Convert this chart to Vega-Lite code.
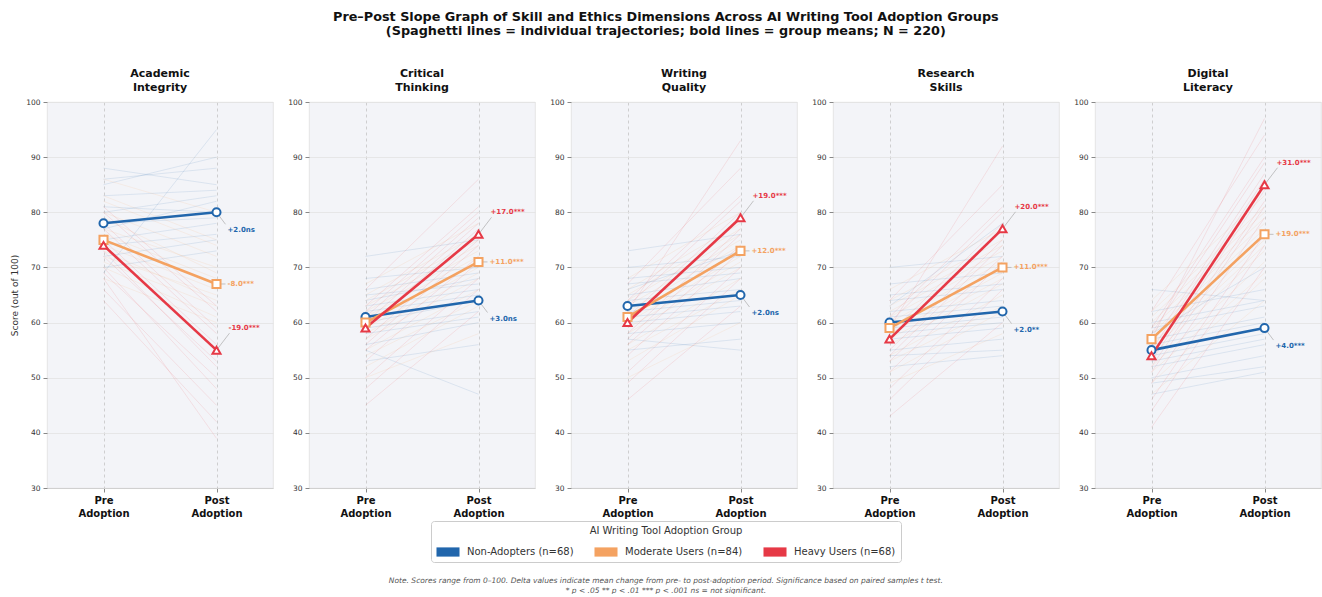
{
 "$schema": "https://vega.github.io/schema/vega-lite/v6.json",
 "padding": {"left": 10, "top": 10, "right": 0, "bottom": 0},
 "background": "white",
 "title": {"text": ["Note. Scores range from 0–100. Delta values indicate mean change from pre- to post-adoption period. Significance based on paired samples t test.", "* p < .05  ** p < .01  *** p < .001  ns = not significant."], "orient": "bottom", "anchor": "middle", "fontSize": 7.5, "fontStyle": "italic", "fontWeight": "normal", "color": "#555555", "lineHeight": 10, "offset": 14},
 "data": {"values": [
  {"d":"AI","g":"Non-Adopters (n=68)","lab":"+2.0ns","Pre":78,"Post":80},
  {"d":"AI","g":"Moderate Users (n=84)","lab":"-8.0***","Pre":75,"Post":67},
  {"d":"AI","g":"Heavy Users (n=68)","lab":"-19.0***","Pre":74,"Post":55},
  {"d":"CT","g":"Non-Adopters (n=68)","lab":"+3.0ns","Pre":61,"Post":64},
  {"d":"CT","g":"Moderate Users (n=84)","lab":"+11.0***","Pre":60,"Post":71},
  {"d":"CT","g":"Heavy Users (n=68)","lab":"+17.0***","Pre":59,"Post":76},
  {"d":"WQ","g":"Non-Adopters (n=68)","lab":"+2.0ns","Pre":63,"Post":65},
  {"d":"WQ","g":"Moderate Users (n=84)","lab":"+12.0***","Pre":61,"Post":73},
  {"d":"WQ","g":"Heavy Users (n=68)","lab":"+19.0***","Pre":60,"Post":79},
  {"d":"RS","g":"Non-Adopters (n=68)","lab":"+2.0**","Pre":60,"Post":62},
  {"d":"RS","g":"Moderate Users (n=84)","lab":"+11.0***","Pre":59,"Post":70},
  {"d":"RS","g":"Heavy Users (n=68)","lab":"+20.0***","Pre":57,"Post":77},
  {"d":"DL","g":"Non-Adopters (n=68)","lab":"+4.0***","Pre":55,"Post":59},
  {"d":"DL","g":"Moderate Users (n=84)","lab":"+19.0***","Pre":57,"Post":76},
  {"d":"DL","g":"Heavy Users (n=68)","lab":"+31.0***","Pre":54,"Post":85},

  {"d":"AI","g":"Non-Adopters (n=68)","i":1,"Pre":72,"Post":75},
  {"d":"AI","g":"Non-Adopters (n=68)","i":2,"Pre":75,"Post":78},
  {"d":"AI","g":"Non-Adopters (n=68)","i":3,"Pre":78,"Post":79},
  {"d":"AI","g":"Non-Adopters (n=68)","i":4,"Pre":80,"Post":83},
  {"d":"AI","g":"Non-Adopters (n=68)","i":5,"Pre":83,"Post":84},
  {"d":"AI","g":"Non-Adopters (n=68)","i":6,"Pre":86,"Post":88},
  {"d":"AI","g":"Non-Adopters (n=68)","i":7,"Pre":70,"Post":73},
  {"d":"AI","g":"Non-Adopters (n=68)","i":8,"Pre":77,"Post":82},
  {"d":"AI","g":"Non-Adopters (n=68)","i":9,"Pre":81,"Post":80},
  {"d":"AI","g":"Non-Adopters (n=68)","i":10,"Pre":85,"Post":90},
  {"d":"AI","g":"Non-Adopters (n=68)","i":11,"Pre":74,"Post":76},
  {"d":"AI","g":"Non-Adopters (n=68)","i":12,"Pre":88,"Post":85},
  {"d":"AI","g":"Non-Adopters (n=68)","i":13,"Pre":69,"Post":95},
  {"d":"AI","g":"Moderate Users (n=84)","i":1,"Pre":68,"Post":60},
  {"d":"AI","g":"Moderate Users (n=84)","i":2,"Pre":71,"Post":63},
  {"d":"AI","g":"Moderate Users (n=84)","i":3,"Pre":74,"Post":66},
  {"d":"AI","g":"Moderate Users (n=84)","i":4,"Pre":77,"Post":70},
  {"d":"AI","g":"Moderate Users (n=84)","i":5,"Pre":80,"Post":72},
  {"d":"AI","g":"Moderate Users (n=84)","i":6,"Pre":83,"Post":75},
  {"d":"AI","g":"Moderate Users (n=84)","i":7,"Pre":70,"Post":61},
  {"d":"AI","g":"Moderate Users (n=84)","i":8,"Pre":76,"Post":68},
  {"d":"AI","g":"Moderate Users (n=84)","i":9,"Pre":79,"Post":69},
  {"d":"AI","g":"Moderate Users (n=84)","i":10,"Pre":72,"Post":65},
  {"d":"AI","g":"Moderate Users (n=84)","i":11,"Pre":82,"Post":74},
  {"d":"AI","g":"Moderate Users (n=84)","i":12,"Pre":73,"Post":64},
  {"d":"AI","g":"Moderate Users (n=84)","i":13,"Pre":86,"Post":80},
  {"d":"AI","g":"Heavy Users (n=68)","i":1,"Pre":66,"Post":45},
  {"d":"AI","g":"Heavy Users (n=68)","i":2,"Pre":69,"Post":50},
  {"d":"AI","g":"Heavy Users (n=68)","i":3,"Pre":72,"Post":53},
  {"d":"AI","g":"Heavy Users (n=68)","i":4,"Pre":75,"Post":56},
  {"d":"AI","g":"Heavy Users (n=68)","i":5,"Pre":78,"Post":59},
  {"d":"AI","g":"Heavy Users (n=68)","i":6,"Pre":81,"Post":63},
  {"d":"AI","g":"Heavy Users (n=68)","i":7,"Pre":70,"Post":48},
  {"d":"AI","g":"Heavy Users (n=68)","i":8,"Pre":74,"Post":55},
  {"d":"AI","g":"Heavy Users (n=68)","i":9,"Pre":77,"Post":58},
  {"d":"AI","g":"Heavy Users (n=68)","i":10,"Pre":80,"Post":62},
  {"d":"AI","g":"Heavy Users (n=68)","i":11,"Pre":68,"Post":39},
  {"d":"AI","g":"Heavy Users (n=68)","i":12,"Pre":73,"Post":52},
  {"d":"AI","g":"Heavy Users (n=68)","i":13,"Pre":64,"Post":42},

  {"d":"CT","g":"Non-Adopters (n=68)","i":1,"Pre":53,"Post":56},
  {"d":"CT","g":"Non-Adopters (n=68)","i":2,"Pre":56,"Post":60},
  {"d":"CT","g":"Non-Adopters (n=68)","i":3,"Pre":59,"Post":62},
  {"d":"CT","g":"Non-Adopters (n=68)","i":4,"Pre":62,"Post":65},
  {"d":"CT","g":"Non-Adopters (n=68)","i":5,"Pre":65,"Post":67},
  {"d":"CT","g":"Non-Adopters (n=68)","i":6,"Pre":68,"Post":70},
  {"d":"CT","g":"Non-Adopters (n=68)","i":7,"Pre":55,"Post":47},
  {"d":"CT","g":"Non-Adopters (n=68)","i":8,"Pre":60,"Post":64},
  {"d":"CT","g":"Non-Adopters (n=68)","i":9,"Pre":63,"Post":66},
  {"d":"CT","g":"Non-Adopters (n=68)","i":10,"Pre":66,"Post":69},
  {"d":"CT","g":"Non-Adopters (n=68)","i":11,"Pre":58,"Post":61},
  {"d":"CT","g":"Non-Adopters (n=68)","i":12,"Pre":64,"Post":68},
  {"d":"CT","g":"Non-Adopters (n=68)","i":13,"Pre":72,"Post":75},
  {"d":"CT","g":"Moderate Users (n=84)","i":1,"Pre":52,"Post":63},
  {"d":"CT","g":"Moderate Users (n=84)","i":2,"Pre":55,"Post":66},
  {"d":"CT","g":"Moderate Users (n=84)","i":3,"Pre":58,"Post":69},
  {"d":"CT","g":"Moderate Users (n=84)","i":4,"Pre":61,"Post":72},
  {"d":"CT","g":"Moderate Users (n=84)","i":5,"Pre":64,"Post":75},
  {"d":"CT","g":"Moderate Users (n=84)","i":6,"Pre":67,"Post":78},
  {"d":"CT","g":"Moderate Users (n=84)","i":7,"Pre":54,"Post":64},
  {"d":"CT","g":"Moderate Users (n=84)","i":8,"Pre":59,"Post":70},
  {"d":"CT","g":"Moderate Users (n=84)","i":9,"Pre":62,"Post":73},
  {"d":"CT","g":"Moderate Users (n=84)","i":10,"Pre":65,"Post":76},
  {"d":"CT","g":"Moderate Users (n=84)","i":11,"Pre":57,"Post":68},
  {"d":"CT","g":"Moderate Users (n=84)","i":12,"Pre":63,"Post":74},
  {"d":"CT","g":"Moderate Users (n=84)","i":13,"Pre":50,"Post":58},
  {"d":"CT","g":"Heavy Users (n=68)","i":1,"Pre":50,"Post":68},
  {"d":"CT","g":"Heavy Users (n=68)","i":2,"Pre":53,"Post":71},
  {"d":"CT","g":"Heavy Users (n=68)","i":3,"Pre":56,"Post":74},
  {"d":"CT","g":"Heavy Users (n=68)","i":4,"Pre":59,"Post":77},
  {"d":"CT","g":"Heavy Users (n=68)","i":5,"Pre":62,"Post":80},
  {"d":"CT","g":"Heavy Users (n=68)","i":6,"Pre":66,"Post":86},
  {"d":"CT","g":"Heavy Users (n=68)","i":7,"Pre":48,"Post":66},
  {"d":"CT","g":"Heavy Users (n=68)","i":8,"Pre":57,"Post":75},
  {"d":"CT","g":"Heavy Users (n=68)","i":9,"Pre":60,"Post":78},
  {"d":"CT","g":"Heavy Users (n=68)","i":10,"Pre":63,"Post":81},
  {"d":"CT","g":"Heavy Users (n=68)","i":11,"Pre":55,"Post":72},
  {"d":"CT","g":"Heavy Users (n=68)","i":12,"Pre":61,"Post":79},
  {"d":"CT","g":"Heavy Users (n=68)","i":13,"Pre":45,"Post":62},

  {"d":"WQ","g":"Non-Adopters (n=68)","i":1,"Pre":55,"Post":57},
  {"d":"WQ","g":"Non-Adopters (n=68)","i":2,"Pre":58,"Post":60},
  {"d":"WQ","g":"Non-Adopters (n=68)","i":3,"Pre":61,"Post":63},
  {"d":"WQ","g":"Non-Adopters (n=68)","i":4,"Pre":64,"Post":66},
  {"d":"WQ","g":"Non-Adopters (n=68)","i":5,"Pre":67,"Post":69},
  {"d":"WQ","g":"Non-Adopters (n=68)","i":6,"Pre":70,"Post":72},
  {"d":"WQ","g":"Non-Adopters (n=68)","i":7,"Pre":57,"Post":55},
  {"d":"WQ","g":"Non-Adopters (n=68)","i":8,"Pre":62,"Post":64},
  {"d":"WQ","g":"Non-Adopters (n=68)","i":9,"Pre":65,"Post":68},
  {"d":"WQ","g":"Non-Adopters (n=68)","i":10,"Pre":68,"Post":70},
  {"d":"WQ","g":"Non-Adopters (n=68)","i":11,"Pre":60,"Post":62},
  {"d":"WQ","g":"Non-Adopters (n=68)","i":12,"Pre":66,"Post":73},
  {"d":"WQ","g":"Non-Adopters (n=68)","i":13,"Pre":73,"Post":76},
  {"d":"WQ","g":"Moderate Users (n=84)","i":1,"Pre":53,"Post":65},
  {"d":"WQ","g":"Moderate Users (n=84)","i":2,"Pre":56,"Post":68},
  {"d":"WQ","g":"Moderate Users (n=84)","i":3,"Pre":59,"Post":71},
  {"d":"WQ","g":"Moderate Users (n=84)","i":4,"Pre":62,"Post":74},
  {"d":"WQ","g":"Moderate Users (n=84)","i":5,"Pre":65,"Post":77},
  {"d":"WQ","g":"Moderate Users (n=84)","i":6,"Pre":68,"Post":80},
  {"d":"WQ","g":"Moderate Users (n=84)","i":7,"Pre":55,"Post":66},
  {"d":"WQ","g":"Moderate Users (n=84)","i":8,"Pre":60,"Post":72},
  {"d":"WQ","g":"Moderate Users (n=84)","i":9,"Pre":63,"Post":75},
  {"d":"WQ","g":"Moderate Users (n=84)","i":10,"Pre":66,"Post":78},
  {"d":"WQ","g":"Moderate Users (n=84)","i":11,"Pre":58,"Post":70},
  {"d":"WQ","g":"Moderate Users (n=84)","i":12,"Pre":64,"Post":76},
  {"d":"WQ","g":"Moderate Users (n=84)","i":13,"Pre":50,"Post":60},
  {"d":"WQ","g":"Heavy Users (n=68)","i":1,"Pre":51,"Post":70},
  {"d":"WQ","g":"Heavy Users (n=68)","i":2,"Pre":54,"Post":73},
  {"d":"WQ","g":"Heavy Users (n=68)","i":3,"Pre":57,"Post":76},
  {"d":"WQ","g":"Heavy Users (n=68)","i":4,"Pre":60,"Post":79},
  {"d":"WQ","g":"Heavy Users (n=68)","i":5,"Pre":63,"Post":82},
  {"d":"WQ","g":"Heavy Users (n=68)","i":6,"Pre":67,"Post":88},
  {"d":"WQ","g":"Heavy Users (n=68)","i":7,"Pre":49,"Post":68},
  {"d":"WQ","g":"Heavy Users (n=68)","i":8,"Pre":58,"Post":77},
  {"d":"WQ","g":"Heavy Users (n=68)","i":9,"Pre":61,"Post":80},
  {"d":"WQ","g":"Heavy Users (n=68)","i":10,"Pre":64,"Post":83},
  {"d":"WQ","g":"Heavy Users (n=68)","i":11,"Pre":56,"Post":74},
  {"d":"WQ","g":"Heavy Users (n=68)","i":12,"Pre":62,"Post":93},
  {"d":"WQ","g":"Heavy Users (n=68)","i":13,"Pre":46,"Post":63},

  {"d":"RS","g":"Non-Adopters (n=68)","i":1,"Pre":52,"Post":54},
  {"d":"RS","g":"Non-Adopters (n=68)","i":2,"Pre":55,"Post":57},
  {"d":"RS","g":"Non-Adopters (n=68)","i":3,"Pre":58,"Post":60},
  {"d":"RS","g":"Non-Adopters (n=68)","i":4,"Pre":61,"Post":63},
  {"d":"RS","g":"Non-Adopters (n=68)","i":5,"Pre":64,"Post":66},
  {"d":"RS","g":"Non-Adopters (n=68)","i":6,"Pre":67,"Post":69},
  {"d":"RS","g":"Non-Adopters (n=68)","i":7,"Pre":54,"Post":55},
  {"d":"RS","g":"Non-Adopters (n=68)","i":8,"Pre":59,"Post":61},
  {"d":"RS","g":"Non-Adopters (n=68)","i":9,"Pre":62,"Post":64},
  {"d":"RS","g":"Non-Adopters (n=68)","i":10,"Pre":65,"Post":67},
  {"d":"RS","g":"Non-Adopters (n=68)","i":11,"Pre":57,"Post":59},
  {"d":"RS","g":"Non-Adopters (n=68)","i":12,"Pre":63,"Post":78},
  {"d":"RS","g":"Non-Adopters (n=68)","i":13,"Pre":70,"Post":72},
  {"d":"RS","g":"Moderate Users (n=84)","i":1,"Pre":51,"Post":62},
  {"d":"RS","g":"Moderate Users (n=84)","i":2,"Pre":54,"Post":65},
  {"d":"RS","g":"Moderate Users (n=84)","i":3,"Pre":57,"Post":68},
  {"d":"RS","g":"Moderate Users (n=84)","i":4,"Pre":60,"Post":71},
  {"d":"RS","g":"Moderate Users (n=84)","i":5,"Pre":63,"Post":74},
  {"d":"RS","g":"Moderate Users (n=84)","i":6,"Pre":66,"Post":77},
  {"d":"RS","g":"Moderate Users (n=84)","i":7,"Pre":53,"Post":63},
  {"d":"RS","g":"Moderate Users (n=84)","i":8,"Pre":58,"Post":69},
  {"d":"RS","g":"Moderate Users (n=84)","i":9,"Pre":61,"Post":72},
  {"d":"RS","g":"Moderate Users (n=84)","i":10,"Pre":64,"Post":75},
  {"d":"RS","g":"Moderate Users (n=84)","i":11,"Pre":56,"Post":67},
  {"d":"RS","g":"Moderate Users (n=84)","i":12,"Pre":62,"Post":73},
  {"d":"RS","g":"Moderate Users (n=84)","i":13,"Pre":49,"Post":58},
  {"d":"RS","g":"Heavy Users (n=68)","i":1,"Pre":48,"Post":68},
  {"d":"RS","g":"Heavy Users (n=68)","i":2,"Pre":51,"Post":71},
  {"d":"RS","g":"Heavy Users (n=68)","i":3,"Pre":54,"Post":74},
  {"d":"RS","g":"Heavy Users (n=68)","i":4,"Pre":57,"Post":77},
  {"d":"RS","g":"Heavy Users (n=68)","i":5,"Pre":60,"Post":80},
  {"d":"RS","g":"Heavy Users (n=68)","i":6,"Pre":64,"Post":85},
  {"d":"RS","g":"Heavy Users (n=68)","i":7,"Pre":46,"Post":66},
  {"d":"RS","g":"Heavy Users (n=68)","i":8,"Pre":55,"Post":75},
  {"d":"RS","g":"Heavy Users (n=68)","i":9,"Pre":58,"Post":78},
  {"d":"RS","g":"Heavy Users (n=68)","i":10,"Pre":61,"Post":81},
  {"d":"RS","g":"Heavy Users (n=68)","i":11,"Pre":53,"Post":72},
  {"d":"RS","g":"Heavy Users (n=68)","i":12,"Pre":59,"Post":92},
  {"d":"RS","g":"Heavy Users (n=68)","i":13,"Pre":43,"Post":60},

  {"d":"DL","g":"Non-Adopters (n=68)","i":1,"Pre":47,"Post":51},
  {"d":"DL","g":"Non-Adopters (n=68)","i":2,"Pre":50,"Post":54},
  {"d":"DL","g":"Non-Adopters (n=68)","i":3,"Pre":53,"Post":57},
  {"d":"DL","g":"Non-Adopters (n=68)","i":4,"Pre":56,"Post":60},
  {"d":"DL","g":"Non-Adopters (n=68)","i":5,"Pre":59,"Post":63},
  {"d":"DL","g":"Non-Adopters (n=68)","i":6,"Pre":62,"Post":66},
  {"d":"DL","g":"Non-Adopters (n=68)","i":7,"Pre":49,"Post":52},
  {"d":"DL","g":"Non-Adopters (n=68)","i":8,"Pre":54,"Post":58},
  {"d":"DL","g":"Non-Adopters (n=68)","i":9,"Pre":57,"Post":61},
  {"d":"DL","g":"Non-Adopters (n=68)","i":10,"Pre":60,"Post":64},
  {"d":"DL","g":"Non-Adopters (n=68)","i":11,"Pre":52,"Post":56},
  {"d":"DL","g":"Non-Adopters (n=68)","i":12,"Pre":58,"Post":70},
  {"d":"DL","g":"Non-Adopters (n=68)","i":13,"Pre":66,"Post":64},
  {"d":"DL","g":"Moderate Users (n=84)","i":1,"Pre":49,"Post":68},
  {"d":"DL","g":"Moderate Users (n=84)","i":2,"Pre":52,"Post":71},
  {"d":"DL","g":"Moderate Users (n=84)","i":3,"Pre":55,"Post":74},
  {"d":"DL","g":"Moderate Users (n=84)","i":4,"Pre":58,"Post":77},
  {"d":"DL","g":"Moderate Users (n=84)","i":5,"Pre":61,"Post":80},
  {"d":"DL","g":"Moderate Users (n=84)","i":6,"Pre":64,"Post":83},
  {"d":"DL","g":"Moderate Users (n=84)","i":7,"Pre":51,"Post":69},
  {"d":"DL","g":"Moderate Users (n=84)","i":8,"Pre":56,"Post":75},
  {"d":"DL","g":"Moderate Users (n=84)","i":9,"Pre":59,"Post":78},
  {"d":"DL","g":"Moderate Users (n=84)","i":10,"Pre":62,"Post":81},
  {"d":"DL","g":"Moderate Users (n=84)","i":11,"Pre":54,"Post":73},
  {"d":"DL","g":"Moderate Users (n=84)","i":12,"Pre":60,"Post":79},
  {"d":"DL","g":"Moderate Users (n=84)","i":13,"Pre":47,"Post":64},
  {"d":"DL","g":"Heavy Users (n=68)","i":1,"Pre":46,"Post":76},
  {"d":"DL","g":"Heavy Users (n=68)","i":2,"Pre":49,"Post":79},
  {"d":"DL","g":"Heavy Users (n=68)","i":3,"Pre":52,"Post":82},
  {"d":"DL","g":"Heavy Users (n=68)","i":4,"Pre":55,"Post":86},
  {"d":"DL","g":"Heavy Users (n=68)","i":5,"Pre":58,"Post":89},
  {"d":"DL","g":"Heavy Users (n=68)","i":6,"Pre":62,"Post":94},
  {"d":"DL","g":"Heavy Users (n=68)","i":7,"Pre":44,"Post":74},
  {"d":"DL","g":"Heavy Users (n=68)","i":8,"Pre":53,"Post":84},
  {"d":"DL","g":"Heavy Users (n=68)","i":9,"Pre":56,"Post":87},
  {"d":"DL","g":"Heavy Users (n=68)","i":10,"Pre":59,"Post":90},
  {"d":"DL","g":"Heavy Users (n=68)","i":11,"Pre":51,"Post":81},
  {"d":"DL","g":"Heavy Users (n=68)","i":12,"Pre":57,"Post":97},
  {"d":"DL","g":"Heavy Users (n=68)","i":13,"Pre":41,"Post":70}
 ]},
 "vconcat": [{
  "title": {"text": ["Pre–Post Slope Graph of Skill and Ethics Dimensions Across AI Writing Tool Adoption Groups", "(Spaghetti lines = individual trajectories; bold lines = group means; N = 220)"], "anchor": "middle", "fontSize": 12.8, "fontWeight": "bold", "lineHeight": 14, "color": "#111111", "offset": 30},
  "spacing": 13,
  "hconcat": [
   {
    "width": 226, "height": 386,
    "title": {"text": ["Academic", "Integrity"], "fontSize": 11, "fontWeight": "bold", "lineHeight": 14, "offset": 5, "color": "#111111"},
    "transform": [{"filter": "datum.d == 'AI'"}, {"fold": ["Pre", "Post"], "as": ["phase", "score"]}],
    "encoding": {
     "x": {"field": "phase", "type": "nominal", "sort": ["Pre", "Post"], "scale": {"type": "point", "domain": ["Pre", "Post"], "padding": 0.5}, "axis": {"title": null, "labelAngle": 0, "labelExpr": "datum.value == 'Pre' ? ['Pre', 'Adoption'] : ['Post', 'Adoption']", "grid": true, "gridDash": [3, 3], "gridColor": "#c4c4c4"}},
     "y": {"field": "score", "type": "quantitative", "scale": {"domain": [30, 100], "nice": false, "zero": false}, "axis": {"title": "Score (out of 100)", "values": [30, 40, 50, 60, 70, 80, 90, 100]}}
    },
    "layer": [
     {"transform": [{"filter": "datum.lab && datum.phase == 'Pre'"}], "mark": {"type": "point", "filled": true, "opacity": 0, "size": 1}, "encoding": {"color": {"field": "g", "type": "nominal", "title": "AI Writing Tool Adoption Group", "scale": {"domain": ["Non-Adopters (n=68)", "Moderate Users (n=84)", "Heavy Users (n=68)"], "range": ["#2166ac", "#f4a261", "#e63946"]}, "legend": {"orient": "bottom", "direction": "horizontal", "offset": 2, "symbolType": "M-1,-0.4H1V0.4H-1Z", "symbolSize": 530, "symbolStrokeWidth": 0, "symbolOpacity": 1}}}},
     {"transform": [{"filter": "!datum.lab"}], "mark": {"type": "line", "strokeWidth": 0.6, "opacity": 0.2}, "encoding": {"detail": {"field": "i", "type": "nominal"}, "stroke": {"field": "g", "type": "nominal", "scale": {"domain": ["Non-Adopters (n=68)", "Moderate Users (n=84)", "Heavy Users (n=68)"], "range": ["#2166ac", "#f4a261", "#e63946"]}, "legend": null}}},
     {"transform": [{"filter": "datum.lab"}], "mark": {"type": "line", "strokeWidth": 2.6}, "encoding": {"stroke": {"field": "g", "type": "nominal", "legend": null}}},
     {"transform": [{"filter": "datum.lab && datum.phase == 'Post'"}], "mark": {"type": "rule", "strokeWidth": 0.7, "color": "#aaaaaa", "x2Offset": {"expr": "datum.g == 'Heavy Users (n=68)' ? 13 : 9"}, "y2Offset": {"expr": "datum.g == 'Heavy Users (n=68)' ? -17 : datum.g == 'Moderate Users (n=84)' ? 0 : 12"}}, "encoding": {"x2": {"field": "phase"}, "y2": {"field": "score"}}},
     {"transform": [{"filter": "datum.lab && datum.g == 'Non-Adopters (n=68)'"}], "mark": {"type": "point", "shape": "circle", "filled": false, "fill": "white", "stroke": "#2166ac", "size": 65, "strokeWidth": 2, "opacity": 1}},
     {"transform": [{"filter": "datum.lab && datum.g == 'Moderate Users (n=84)'"}], "mark": {"type": "point", "shape": "square", "filled": false, "fill": "white", "stroke": "#f4a261", "size": 65, "strokeWidth": 2, "opacity": 1}},
     {"transform": [{"filter": "datum.lab && datum.g == 'Heavy Users (n=68)'"}], "mark": {"type": "point", "shape": "triangle-up", "filled": false, "fill": "white", "stroke": "#e63946", "size": 65, "strokeWidth": 2, "opacity": 1}},
     {"transform": [{"filter": "datum.lab && datum.phase == 'Post'"}], "mark": {"type": "text", "align": "left", "baseline": "middle", "fontSize": 7, "fontWeight": "bold", "dx": {"expr": "datum.g == 'Heavy Users (n=68)' ? 12 : 11"}, "dy": {"expr": "datum.g == 'Heavy Users (n=68)' ? -22 : datum.g == 'Moderate Users (n=84)' ? 0 : 18"}}, "encoding": {"text": {"field": "lab"}, "fill": {"field": "g", "type": "nominal", "scale": {"domain": ["Non-Adopters (n=68)", "Moderate Users (n=84)", "Heavy Users (n=68)"], "range": ["#2166ac", "#f4a261", "#e63946"]}, "legend": null}}}
    ]
   },
   {
    "width": 226, "height": 386,
    "title": {"text": ["Critical", "Thinking"], "fontSize": 11, "fontWeight": "bold", "lineHeight": 14, "offset": 5, "color": "#111111"},
    "transform": [{"filter": "datum.d == 'CT'"}, {"fold": ["Pre", "Post"], "as": ["phase", "score"]}],
    "encoding": {
     "x": {"field": "phase", "type": "nominal", "sort": ["Pre", "Post"], "scale": {"type": "point", "domain": ["Pre", "Post"], "padding": 0.5}, "axis": {"title": null, "labelAngle": 0, "labelExpr": "datum.value == 'Pre' ? ['Pre', 'Adoption'] : ['Post', 'Adoption']", "grid": true, "gridDash": [3, 3], "gridColor": "#c4c4c4"}},
     "y": {"field": "score", "type": "quantitative", "scale": {"domain": [30, 100], "nice": false, "zero": false}, "axis": {"title": null, "values": [30, 40, 50, 60, 70, 80, 90, 100]}}
    },
    "layer": [
     {"transform": [{"filter": "datum.lab && datum.phase == 'Pre'"}], "mark": {"type": "point", "filled": true, "opacity": 0, "size": 1}, "encoding": {"color": {"field": "g", "type": "nominal", "title": "AI Writing Tool Adoption Group", "scale": {"domain": ["Non-Adopters (n=68)", "Moderate Users (n=84)", "Heavy Users (n=68)"], "range": ["#2166ac", "#f4a261", "#e63946"]}, "legend": {"orient": "bottom", "direction": "horizontal", "offset": 2, "symbolType": "M-1,-0.4H1V0.4H-1Z", "symbolSize": 530, "symbolStrokeWidth": 0, "symbolOpacity": 1}}}},
     {"transform": [{"filter": "!datum.lab"}], "mark": {"type": "line", "strokeWidth": 0.6, "opacity": 0.2}, "encoding": {"detail": {"field": "i", "type": "nominal"}, "stroke": {"field": "g", "type": "nominal", "scale": {"domain": ["Non-Adopters (n=68)", "Moderate Users (n=84)", "Heavy Users (n=68)"], "range": ["#2166ac", "#f4a261", "#e63946"]}, "legend": null}}},
     {"transform": [{"filter": "datum.lab"}], "mark": {"type": "line", "strokeWidth": 2.6}, "encoding": {"stroke": {"field": "g", "type": "nominal", "legend": null}}},
     {"transform": [{"filter": "datum.lab && datum.phase == 'Post'"}], "mark": {"type": "rule", "strokeWidth": 0.7, "color": "#aaaaaa", "x2Offset": {"expr": "datum.g == 'Heavy Users (n=68)' ? 13 : 9"}, "y2Offset": {"expr": "datum.g == 'Heavy Users (n=68)' ? -17 : datum.g == 'Moderate Users (n=84)' ? 0 : 12"}}, "encoding": {"x2": {"field": "phase"}, "y2": {"field": "score"}}},
     {"transform": [{"filter": "datum.lab && datum.g == 'Non-Adopters (n=68)'"}], "mark": {"type": "point", "shape": "circle", "filled": false, "fill": "white", "stroke": "#2166ac", "size": 65, "strokeWidth": 2, "opacity": 1}},
     {"transform": [{"filter": "datum.lab && datum.g == 'Moderate Users (n=84)'"}], "mark": {"type": "point", "shape": "square", "filled": false, "fill": "white", "stroke": "#f4a261", "size": 65, "strokeWidth": 2, "opacity": 1}},
     {"transform": [{"filter": "datum.lab && datum.g == 'Heavy Users (n=68)'"}], "mark": {"type": "point", "shape": "triangle-up", "filled": false, "fill": "white", "stroke": "#e63946", "size": 65, "strokeWidth": 2, "opacity": 1}},
     {"transform": [{"filter": "datum.lab && datum.phase == 'Post'"}], "mark": {"type": "text", "align": "left", "baseline": "middle", "fontSize": 7, "fontWeight": "bold", "dx": {"expr": "datum.g == 'Heavy Users (n=68)' ? 12 : 11"}, "dy": {"expr": "datum.g == 'Heavy Users (n=68)' ? -22 : datum.g == 'Moderate Users (n=84)' ? 0 : 18"}}, "encoding": {"text": {"field": "lab"}, "fill": {"field": "g", "type": "nominal", "scale": {"domain": ["Non-Adopters (n=68)", "Moderate Users (n=84)", "Heavy Users (n=68)"], "range": ["#2166ac", "#f4a261", "#e63946"]}, "legend": null}}}
    ]
   },
   {
    "width": 226, "height": 386,
    "title": {"text": ["Writing", "Quality"], "fontSize": 11, "fontWeight": "bold", "lineHeight": 14, "offset": 5, "color": "#111111"},
    "transform": [{"filter": "datum.d == 'WQ'"}, {"fold": ["Pre", "Post"], "as": ["phase", "score"]}],
    "encoding": {
     "x": {"field": "phase", "type": "nominal", "sort": ["Pre", "Post"], "scale": {"type": "point", "domain": ["Pre", "Post"], "padding": 0.5}, "axis": {"title": null, "labelAngle": 0, "labelExpr": "datum.value == 'Pre' ? ['Pre', 'Adoption'] : ['Post', 'Adoption']", "grid": true, "gridDash": [3, 3], "gridColor": "#c4c4c4"}},
     "y": {"field": "score", "type": "quantitative", "scale": {"domain": [30, 100], "nice": false, "zero": false}, "axis": {"title": null, "values": [30, 40, 50, 60, 70, 80, 90, 100]}}
    },
    "layer": [
     {"transform": [{"filter": "datum.lab && datum.phase == 'Pre'"}], "mark": {"type": "point", "filled": true, "opacity": 0, "size": 1}, "encoding": {"color": {"field": "g", "type": "nominal", "title": "AI Writing Tool Adoption Group", "scale": {"domain": ["Non-Adopters (n=68)", "Moderate Users (n=84)", "Heavy Users (n=68)"], "range": ["#2166ac", "#f4a261", "#e63946"]}, "legend": {"orient": "bottom", "direction": "horizontal", "offset": 2, "symbolType": "M-1,-0.4H1V0.4H-1Z", "symbolSize": 530, "symbolStrokeWidth": 0, "symbolOpacity": 1}}}},
     {"transform": [{"filter": "!datum.lab"}], "mark": {"type": "line", "strokeWidth": 0.6, "opacity": 0.2}, "encoding": {"detail": {"field": "i", "type": "nominal"}, "stroke": {"field": "g", "type": "nominal", "scale": {"domain": ["Non-Adopters (n=68)", "Moderate Users (n=84)", "Heavy Users (n=68)"], "range": ["#2166ac", "#f4a261", "#e63946"]}, "legend": null}}},
     {"transform": [{"filter": "datum.lab"}], "mark": {"type": "line", "strokeWidth": 2.6}, "encoding": {"stroke": {"field": "g", "type": "nominal", "legend": null}}},
     {"transform": [{"filter": "datum.lab && datum.phase == 'Post'"}], "mark": {"type": "rule", "strokeWidth": 0.7, "color": "#aaaaaa", "x2Offset": {"expr": "datum.g == 'Heavy Users (n=68)' ? 13 : 9"}, "y2Offset": {"expr": "datum.g == 'Heavy Users (n=68)' ? -17 : datum.g == 'Moderate Users (n=84)' ? 0 : 12"}}, "encoding": {"x2": {"field": "phase"}, "y2": {"field": "score"}}},
     {"transform": [{"filter": "datum.lab && datum.g == 'Non-Adopters (n=68)'"}], "mark": {"type": "point", "shape": "circle", "filled": false, "fill": "white", "stroke": "#2166ac", "size": 65, "strokeWidth": 2, "opacity": 1}},
     {"transform": [{"filter": "datum.lab && datum.g == 'Moderate Users (n=84)'"}], "mark": {"type": "point", "shape": "square", "filled": false, "fill": "white", "stroke": "#f4a261", "size": 65, "strokeWidth": 2, "opacity": 1}},
     {"transform": [{"filter": "datum.lab && datum.g == 'Heavy Users (n=68)'"}], "mark": {"type": "point", "shape": "triangle-up", "filled": false, "fill": "white", "stroke": "#e63946", "size": 65, "strokeWidth": 2, "opacity": 1}},
     {"transform": [{"filter": "datum.lab && datum.phase == 'Post'"}], "mark": {"type": "text", "align": "left", "baseline": "middle", "fontSize": 7, "fontWeight": "bold", "dx": {"expr": "datum.g == 'Heavy Users (n=68)' ? 12 : 11"}, "dy": {"expr": "datum.g == 'Heavy Users (n=68)' ? -22 : datum.g == 'Moderate Users (n=84)' ? 0 : 18"}}, "encoding": {"text": {"field": "lab"}, "fill": {"field": "g", "type": "nominal", "scale": {"domain": ["Non-Adopters (n=68)", "Moderate Users (n=84)", "Heavy Users (n=68)"], "range": ["#2166ac", "#f4a261", "#e63946"]}, "legend": null}}}
    ]
   },
   {
    "width": 226, "height": 386,
    "title": {"text": ["Research", "Skills"], "fontSize": 11, "fontWeight": "bold", "lineHeight": 14, "offset": 5, "color": "#111111"},
    "transform": [{"filter": "datum.d == 'RS'"}, {"fold": ["Pre", "Post"], "as": ["phase", "score"]}],
    "encoding": {
     "x": {"field": "phase", "type": "nominal", "sort": ["Pre", "Post"], "scale": {"type": "point", "domain": ["Pre", "Post"], "padding": 0.5}, "axis": {"title": null, "labelAngle": 0, "labelExpr": "datum.value == 'Pre' ? ['Pre', 'Adoption'] : ['Post', 'Adoption']", "grid": true, "gridDash": [3, 3], "gridColor": "#c4c4c4"}},
     "y": {"field": "score", "type": "quantitative", "scale": {"domain": [30, 100], "nice": false, "zero": false}, "axis": {"title": null, "values": [30, 40, 50, 60, 70, 80, 90, 100]}}
    },
    "layer": [
     {"transform": [{"filter": "datum.lab && datum.phase == 'Pre'"}], "mark": {"type": "point", "filled": true, "opacity": 0, "size": 1}, "encoding": {"color": {"field": "g", "type": "nominal", "title": "AI Writing Tool Adoption Group", "scale": {"domain": ["Non-Adopters (n=68)", "Moderate Users (n=84)", "Heavy Users (n=68)"], "range": ["#2166ac", "#f4a261", "#e63946"]}, "legend": {"orient": "bottom", "direction": "horizontal", "offset": 2, "symbolType": "M-1,-0.4H1V0.4H-1Z", "symbolSize": 530, "symbolStrokeWidth": 0, "symbolOpacity": 1}}}},
     {"transform": [{"filter": "!datum.lab"}], "mark": {"type": "line", "strokeWidth": 0.6, "opacity": 0.2}, "encoding": {"detail": {"field": "i", "type": "nominal"}, "stroke": {"field": "g", "type": "nominal", "scale": {"domain": ["Non-Adopters (n=68)", "Moderate Users (n=84)", "Heavy Users (n=68)"], "range": ["#2166ac", "#f4a261", "#e63946"]}, "legend": null}}},
     {"transform": [{"filter": "datum.lab"}], "mark": {"type": "line", "strokeWidth": 2.6}, "encoding": {"stroke": {"field": "g", "type": "nominal", "legend": null}}},
     {"transform": [{"filter": "datum.lab && datum.phase == 'Post'"}], "mark": {"type": "rule", "strokeWidth": 0.7, "color": "#aaaaaa", "x2Offset": {"expr": "datum.g == 'Heavy Users (n=68)' ? 13 : 9"}, "y2Offset": {"expr": "datum.g == 'Heavy Users (n=68)' ? -17 : datum.g == 'Moderate Users (n=84)' ? 0 : 12"}}, "encoding": {"x2": {"field": "phase"}, "y2": {"field": "score"}}},
     {"transform": [{"filter": "datum.lab && datum.g == 'Non-Adopters (n=68)'"}], "mark": {"type": "point", "shape": "circle", "filled": false, "fill": "white", "stroke": "#2166ac", "size": 65, "strokeWidth": 2, "opacity": 1}},
     {"transform": [{"filter": "datum.lab && datum.g == 'Moderate Users (n=84)'"}], "mark": {"type": "point", "shape": "square", "filled": false, "fill": "white", "stroke": "#f4a261", "size": 65, "strokeWidth": 2, "opacity": 1}},
     {"transform": [{"filter": "datum.lab && datum.g == 'Heavy Users (n=68)'"}], "mark": {"type": "point", "shape": "triangle-up", "filled": false, "fill": "white", "stroke": "#e63946", "size": 65, "strokeWidth": 2, "opacity": 1}},
     {"transform": [{"filter": "datum.lab && datum.phase == 'Post'"}], "mark": {"type": "text", "align": "left", "baseline": "middle", "fontSize": 7, "fontWeight": "bold", "dx": {"expr": "datum.g == 'Heavy Users (n=68)' ? 12 : 11"}, "dy": {"expr": "datum.g == 'Heavy Users (n=68)' ? -22 : datum.g == 'Moderate Users (n=84)' ? 0 : 18"}}, "encoding": {"text": {"field": "lab"}, "fill": {"field": "g", "type": "nominal", "scale": {"domain": ["Non-Adopters (n=68)", "Moderate Users (n=84)", "Heavy Users (n=68)"], "range": ["#2166ac", "#f4a261", "#e63946"]}, "legend": null}}}
    ]
   },
   {
    "width": 226, "height": 386,
    "title": {"text": ["Digital", "Literacy"], "fontSize": 11, "fontWeight": "bold", "lineHeight": 14, "offset": 5, "color": "#111111"},
    "transform": [{"filter": "datum.d == 'DL'"}, {"fold": ["Pre", "Post"], "as": ["phase", "score"]}],
    "encoding": {
     "x": {"field": "phase", "type": "nominal", "sort": ["Pre", "Post"], "scale": {"type": "point", "domain": ["Pre", "Post"], "padding": 0.5}, "axis": {"title": null, "labelAngle": 0, "labelExpr": "datum.value == 'Pre' ? ['Pre', 'Adoption'] : ['Post', 'Adoption']", "grid": true, "gridDash": [3, 3], "gridColor": "#c4c4c4"}},
     "y": {"field": "score", "type": "quantitative", "scale": {"domain": [30, 100], "nice": false, "zero": false}, "axis": {"title": null, "values": [30, 40, 50, 60, 70, 80, 90, 100]}}
    },
    "layer": [
     {"transform": [{"filter": "datum.lab && datum.phase == 'Pre'"}], "mark": {"type": "point", "filled": true, "opacity": 0, "size": 1}, "encoding": {"color": {"field": "g", "type": "nominal", "title": "AI Writing Tool Adoption Group", "scale": {"domain": ["Non-Adopters (n=68)", "Moderate Users (n=84)", "Heavy Users (n=68)"], "range": ["#2166ac", "#f4a261", "#e63946"]}, "legend": {"orient": "bottom", "direction": "horizontal", "offset": 2, "symbolType": "M-1,-0.4H1V0.4H-1Z", "symbolSize": 530, "symbolStrokeWidth": 0, "symbolOpacity": 1}}}},
     {"transform": [{"filter": "!datum.lab"}], "mark": {"type": "line", "strokeWidth": 0.6, "opacity": 0.2}, "encoding": {"detail": {"field": "i", "type": "nominal"}, "stroke": {"field": "g", "type": "nominal", "scale": {"domain": ["Non-Adopters (n=68)", "Moderate Users (n=84)", "Heavy Users (n=68)"], "range": ["#2166ac", "#f4a261", "#e63946"]}, "legend": null}}},
     {"transform": [{"filter": "datum.lab"}], "mark": {"type": "line", "strokeWidth": 2.6}, "encoding": {"stroke": {"field": "g", "type": "nominal", "legend": null}}},
     {"transform": [{"filter": "datum.lab && datum.phase == 'Post'"}], "mark": {"type": "rule", "strokeWidth": 0.7, "color": "#aaaaaa", "x2Offset": {"expr": "datum.g == 'Heavy Users (n=68)' ? 13 : 9"}, "y2Offset": {"expr": "datum.g == 'Heavy Users (n=68)' ? -17 : datum.g == 'Moderate Users (n=84)' ? 0 : 12"}}, "encoding": {"x2": {"field": "phase"}, "y2": {"field": "score"}}},
     {"transform": [{"filter": "datum.lab && datum.g == 'Non-Adopters (n=68)'"}], "mark": {"type": "point", "shape": "circle", "filled": false, "fill": "white", "stroke": "#2166ac", "size": 65, "strokeWidth": 2, "opacity": 1}},
     {"transform": [{"filter": "datum.lab && datum.g == 'Moderate Users (n=84)'"}], "mark": {"type": "point", "shape": "square", "filled": false, "fill": "white", "stroke": "#f4a261", "size": 65, "strokeWidth": 2, "opacity": 1}},
     {"transform": [{"filter": "datum.lab && datum.g == 'Heavy Users (n=68)'"}], "mark": {"type": "point", "shape": "triangle-up", "filled": false, "fill": "white", "stroke": "#e63946", "size": 65, "strokeWidth": 2, "opacity": 1}},
     {"transform": [{"filter": "datum.lab && datum.phase == 'Post'"}], "mark": {"type": "text", "align": "left", "baseline": "middle", "fontSize": 7, "fontWeight": "bold", "dx": {"expr": "datum.g == 'Heavy Users (n=68)' ? 12 : 11"}, "dy": {"expr": "datum.g == 'Heavy Users (n=68)' ? -22 : datum.g == 'Moderate Users (n=84)' ? 0 : 18"}}, "encoding": {"text": {"field": "lab"}, "fill": {"field": "g", "type": "nominal", "scale": {"domain": ["Non-Adopters (n=68)", "Moderate Users (n=84)", "Heavy Users (n=68)"], "range": ["#2166ac", "#f4a261", "#e63946"]}, "legend": null}}}
    ]
   }
  ]
 }],
 "config": {
  "font": "DejaVu Sans",
  "view": {"fill": "#f3f4f8", "stroke": "#e0e0e0", "strokeWidth": 0.8},
  "axis": {"labelFont": "DejaVu Sans", "labelColor": "#333333", "tickColor": "#888888", "tickSize": 4, "domainColor": "#d0d0d0", "gridColor": "#e2e2e2", "gridWidth": 0.8},
  "axisX": {"labelFontSize": 10, "labelFontWeight": "bold", "labelColor": "#111111", "labelPadding": 3, "labelLineHeight": 13},
  "axisY": {"labelFontSize": 7.5, "labelPadding": 3, "titleFontSize": 9, "titleFontWeight": "normal", "titleColor": "#333333", "titlePadding": 6, "domain": false},
  "legend": {"layout": {"bottom": {"anchor": "middle"}}, "titleFontSize": 10, "titleFontWeight": "normal", "titleColor": "#333333", "titleAnchor": "middle", "titleAlign": "center", "titlePadding": 4, "labelFontSize": 10, "labelColor": "#333333", "symbolOpacity": 1, "strokeColor": "#cccccc", "fillColor": "#ffffff", "padding": 5, "cornerRadius": 3, "columnPadding": 20, "labelOffset": 7}
 }
}
